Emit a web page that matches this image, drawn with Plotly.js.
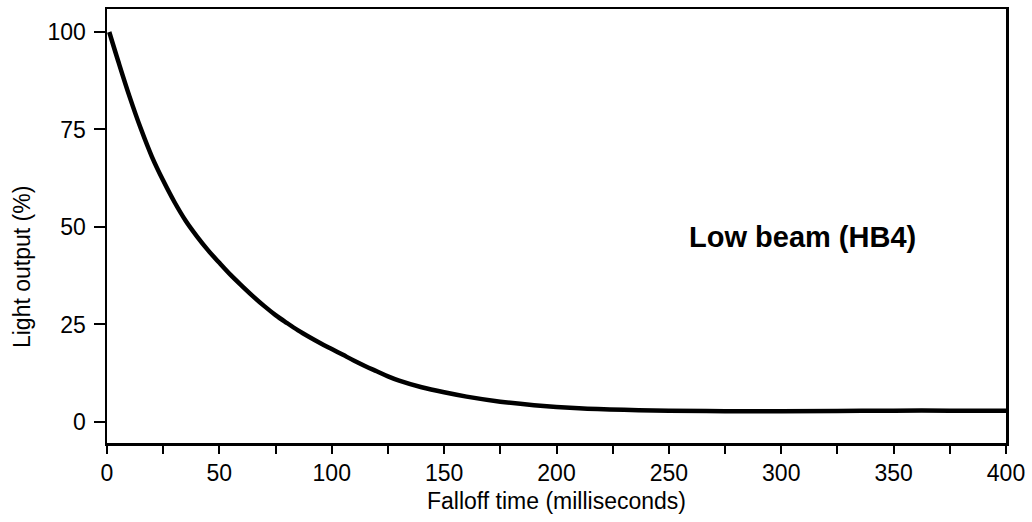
<!DOCTYPE html>
<html>
<head>
<meta charset="utf-8">
<script src="https://cdn.plot.ly/plotly-3.0.1.min.js"></script>
<style>html,body{margin:0;padding:0;background:#fff;}#chart{width:1032px;height:522px;}</style>
</head>
<body>
<div id="chart"></div>
<script>
const timeMs = [1, 5, 10, 15, 20, 25, 30, 35, 40, 45, 50, 55, 60, 65, 70, 75, 80, 85, 90, 95, 100, 105, 110, 115, 120, 125, 130, 140, 150, 160, 175, 190, 210, 230, 250, 275, 300, 325, 350, 375, 400];
const lightOutput = [100, 92.5, 83.5, 75.3, 68.0, 61.9, 56.4, 51.6, 47.6, 44.0, 40.8, 37.7, 34.9, 32.2, 29.7, 27.4, 25.4, 23.5, 21.8, 20.2, 18.7, 17.2, 15.7, 14.3, 13.0, 11.7, 10.6, 8.9, 7.6, 6.5, 5.2, 4.3, 3.5, 3.1, 2.9, 2.75, 2.75, 2.8, 2.9, 2.9, 2.85];
const xTickVals = [0, 25, 50, 75, 100, 125, 150, 175, 200, 225, 250, 275, 300, 325, 350, 375, 400];
const xTickText = ['0', '', '50', '', '100', '', '150', '', '200', '', '250', '', '300', '', '350', '', '400'];
const yTickVals = [0, 25, 50, 75, 100];
const yTickText = ['0', '25', '50', '75', '100'];
const xTitle = 'Falloff time (milliseconds)';
const yTitle = 'Light output (%)';
const seriesLabel = 'Low beam (HB4)';

const fam = '"Liberation Sans", Arial, Helvetica, sans-serif';
const tickFont = {family: fam, size: 23, color: '#000'};
const titleFont = {family: fam, size: 23, color: '#000'};

Plotly.newPlot('chart', [{
  x: timeMs, y: lightOutput, type: 'scatter', mode: 'lines',
  line: {color: '#000', width: 4.5, shape: 'spline', smoothing: 1},
  hoverinfo: 'skip', showlegend: false
}], {
  width: 1032, height: 522,
  margin: {l: 107, r: 26, t: 9, b: 79},
  paper_bgcolor: '#fff', plot_bgcolor: '#fff',
  font: tickFont,
  xaxis: {
    range: [0, 400], showgrid: false, zeroline: false,
    showline: true, linecolor: '#000', linewidth: 2.5, mirror: true,
    ticks: 'outside', ticklen: 8, tickwidth: 2, tickcolor: '#000',
    tickmode: 'array', tickvals: xTickVals, ticktext: xTickText,
    tickfont: tickFont,
    title: {text: xTitle, font: titleFont, standoff: 8}
  },
  yaxis: {
    range: [-5.4, 105.9], showgrid: false, zeroline: false,
    showline: true, linecolor: '#000', linewidth: 2.5, mirror: true,
    ticks: 'outside', ticklen: 11, tickwidth: 2, tickcolor: '#000',
    ticklabelstandoff: 3,
    tickmode: 'array', tickvals: yTickVals, ticktext: yTickText,
    tickfont: tickFont
  },
  annotations: [{
    x: 309.5, y: 47.5, xref: 'x', yref: 'y', text: '<b>' + seriesLabel + '</b>',
    showarrow: false, font: {family: fam, size: 29, color: '#000'}
  }, {
    x: -0.0945, y: 0.4055, xref: 'paper', yref: 'paper', text: yTitle,
    textangle: -90, xanchor: 'center', yanchor: 'middle',
    showarrow: false, font: titleFont
  }]
}, {displayModeBar: false, staticPlot: true});
</script>
</body>
</html>
